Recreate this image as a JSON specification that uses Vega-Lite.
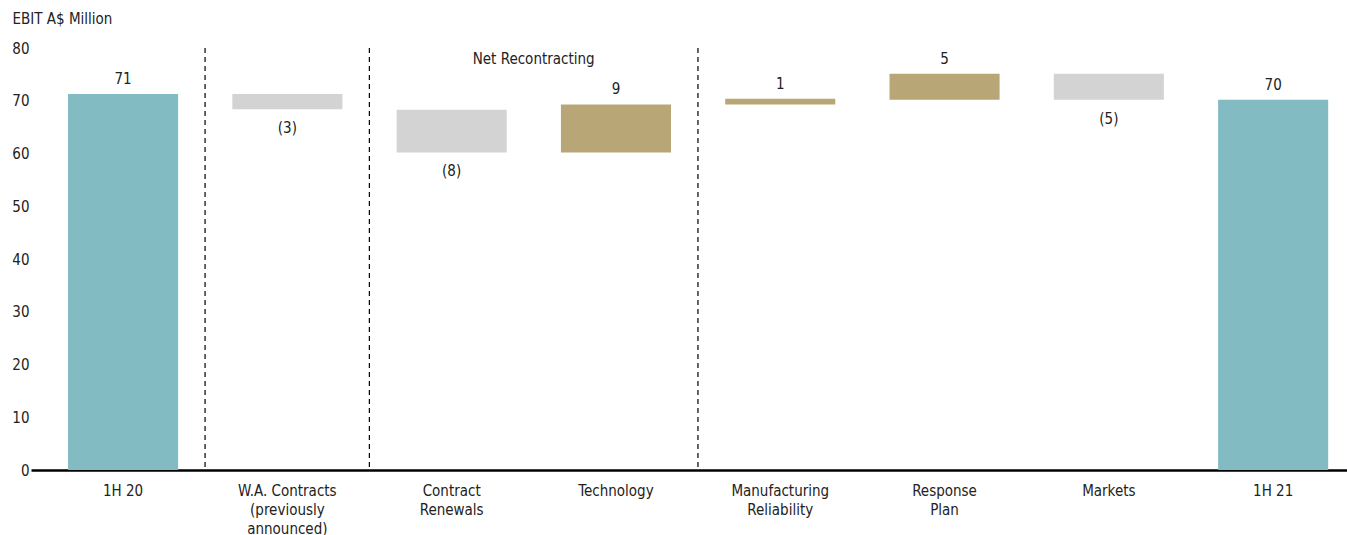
{
  "$schema": "https://vega.github.io/schema/vega-lite/v6.json",
  "width": 1316,
  "height": 422,
  "autosize": {"type": "none"},
  "padding": {"left": 31, "top": 48, "right": 0, "bottom": 65},
  "config": {
    "view": {"stroke": null},
    "font": "Liberation Sans Narrow, DejaVu Sans Condensed, Roboto, sans-serif"
  },
  "datasets": {
    "bars": [
      {"cat": "1H 20", "lo": 0, "hi": 71.3, "text": "71", "kind": "total", "pos": "above"},
      {"cat": "W.A. Contracts|(previously|announced)", "lo": 68.4, "hi": 71.3, "text": "(3)", "kind": "decrease", "pos": "below"},
      {"cat": "Contract|Renewals", "lo": 60.2, "hi": 68.3, "text": "(8)", "kind": "decrease", "pos": "below"},
      {"cat": "Technology", "lo": 60.2, "hi": 69.3, "text": "9", "kind": "increase", "pos": "above"},
      {"cat": "Manufacturing|Reliability", "lo": 69.3, "hi": 70.4, "text": "1", "kind": "increase", "pos": "above"},
      {"cat": "Response|Plan", "lo": 70.2, "hi": 75.1, "text": "5", "kind": "increase", "pos": "above"},
      {"cat": "Markets", "lo": 70.2, "hi": 75.1, "text": "(5)", "kind": "decrease", "pos": "below"},
      {"cat": "1H 21", "lo": 0, "hi": 70.2, "text": "70", "kind": "total", "pos": "above"}
    ],
    "dividers": [
      {"cat": "1H 20"},
      {"cat": "W.A. Contracts|(previously|announced)"},
      {"cat": "Technology"}
    ]
  },
  "data": {"name": "bars"},
  "encoding": {
    "x": {
      "field": "cat",
      "type": "nominal",
      "sort": null,
      "scale": {
        "domain": ["1H 20", "W.A. Contracts|(previously|announced)", "Contract|Renewals", "Technology", "Manufacturing|Reliability", "Response|Plan", "Markets", "1H 21"],
        "paddingInner": 0.33,
        "paddingOuter": 0.17,
        "align": 0.663
      },
      "axis": {
        "title": null,
        "labelAngle": 0,
        "labelExpr": "split(datum.label, '|')",
        "labelFontSize": 15,
        "labelLineHeight": 19,
        "labelColor": "#222222",
        "labelPadding": 13,
        "ticks": false,
        "domainColor": "#000000",
        "domainWidth": 2.5,
        "labelLimit": 300
      }
    }
  },
  "layer": [
    {
      "mark": {"type": "bar"},
      "encoding": {
        "y": {
          "field": "lo",
          "type": "quantitative",
          "scale": {"domain": [0, 80], "nice": false},
          "axis": {
            "title": "EBIT A$ Million",
            "titleAngle": 0,
            "titleAlign": "left",
            "titleBaseline": "middle",
            "titleX": -19,
            "titleY": -30,
            "titleFontSize": 15,
            "titleFontWeight": "normal",
            "titleColor": "#222222",
            "values": [0, 10, 20, 30, 40, 50, 60, 70, 80],
            "labelFontSize": 15,
            "labelColor": "#222222",
            "labelPadding": 2,
            "ticks": false,
            "domain": false,
            "grid": false
          }
        },
        "y2": {"field": "hi"},
        "color": {
          "field": "kind",
          "type": "nominal",
          "scale": {"domain": ["total", "decrease", "increase"], "range": ["#82BBC2", "#D3D3D3", "#B8A677"]},
          "legend": null
        }
      }
    },
    {
      "transform": [{"filter": "datum.pos === 'above'"}],
      "mark": {"type": "text", "dy": -15, "fontSize": 15, "color": "#222222", "baseline": "middle"},
      "encoding": {
        "y": {"field": "hi", "type": "quantitative"},
        "text": {"field": "text"}
      }
    },
    {
      "transform": [{"filter": "datum.pos === 'below'"}],
      "mark": {"type": "text", "dy": 19, "fontSize": 15, "color": "#222222", "baseline": "middle"},
      "encoding": {
        "y": {"field": "lo", "type": "quantitative"},
        "text": {"field": "text"}
      }
    },
    {
      "data": {"name": "dividers"},
      "mark": {"type": "rule", "xOffset": 82, "strokeDash": [5, 4], "strokeWidth": 1.2, "color": "#000000"},
      "encoding": {
        "y": {"datum": 80},
        "y2": {"datum": 0}
      }
    },
    {
      "data": {"values": [{"cat": "Contract|Renewals", "note": "Net Recontracting"}]},
      "mark": {"type": "text", "dx": 82, "fontSize": 15, "color": "#222222", "baseline": "middle"},
      "encoding": {
        "y": {"datum": 78},
        "text": {"field": "note"}
      }
    }
  ]
}
